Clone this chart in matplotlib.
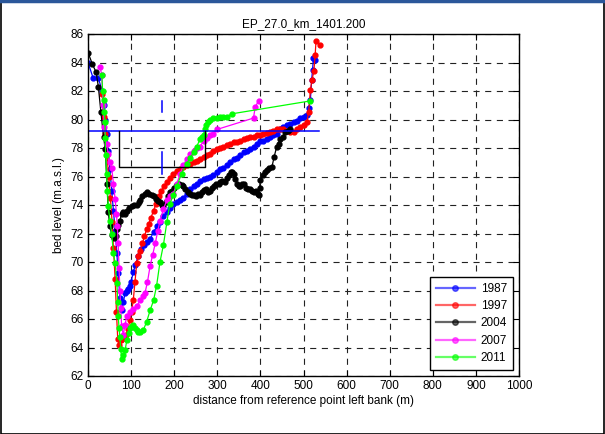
import matplotlib
matplotlib.use("Agg")
import matplotlib.pyplot as plt
from matplotlib.patches import Rectangle
from matplotlib.lines import Line2D
import numpy as np

plt.rcParams['font.family'] = ['Liberation Sans', 'DejaVu Sans']

years = ['1987', '1997', '2004', '2007', '2011']
colors = ['#0000ff', '#ff0000', '#000000', '#ff00ff', '#00ff00']

# (distance m, bed level m.a.s.l.)
pts_1987 = [(0, 84.0), (12, 82.9), (24, 82.9), (33, 82.0), (38, 81.0), (40, 80.0), (43, 79.0), (47, 77.8),
            (51, 76.5), (55, 75.0), (59, 73.6), (63, 72.2), (67, 70.6), (70, 69.2), (74, 67.5), (78, 66.6),
            (82, 67.2), (86, 67.8), (90, 68.0), (93, 68.1), (97, 68.3), (100, 68.6), (105, 69.3), (110, 69.8),
            (116, 70.4), (122, 70.9), (129, 71.2), (136, 71.4), (144, 71.6), (152, 72.1), (160, 72.5),
            (167, 72.8), (175, 73.2), (183, 73.5), (190, 73.8), (198, 74.1), (206, 74.2), (214, 74.35),
            (221, 74.5), (229, 74.8), (237, 75.1), (245, 75.3), (252, 75.5), (260, 75.7), (268, 75.8),
            (276, 75.9), (283, 76.0), (291, 76.1), (299, 76.3), (307, 76.5), (314, 76.6), (322, 76.8),
            (330, 77.0), (338, 77.2), (345, 77.3), (353, 77.5), (361, 77.7), (368, 77.8), (376, 77.9),
            (384, 78.1), (392, 78.3), (399, 78.5), (407, 78.5), (415, 78.6), (423, 78.8), (430, 78.9),
            (438, 79.0), (446, 79.3), (453, 79.5), (461, 79.6), (469, 79.7), (477, 79.8), (484, 79.9),
            (492, 80.1), (500, 80.2), (508, 80.3), (512, 80.8), (516, 81.4), (519, 82.8), (521, 83.5),
            (523, 84.3), (527, 84.2)]

pts_1997 = [(33, 81.8), (36, 80.2), (40, 79.0), (44, 77.5), (48, 76.0), (52, 74.5), (56, 72.8), (59, 71.0),
            (63, 68.8), (66, 66.5), (69, 64.6), (72, 64.2), (76, 64.5), (80, 64.6), (84, 64.8), (88, 64.9),
            (93, 65.3), (97, 65.9), (101, 66.5), (105, 67.3), (109, 68.6), (113, 69.9), (117, 70.4),
            (121, 70.8), (126, 71.3), (131, 71.8), (136, 72.3), (141, 72.7), (146, 73.1), (152, 73.6),
            (158, 74.1), (164, 74.6), (170, 75.0), (176, 75.3), (183, 75.6), (190, 75.9), (198, 76.2),
            (206, 76.4), (214, 76.55), (221, 76.7), (229, 76.8), (237, 76.9), (245, 77.0), (252, 77.1),
            (260, 77.25), (268, 77.4), (276, 77.5), (283, 77.6), (291, 77.8), (299, 77.9), (307, 78.0),
            (314, 78.1), (322, 78.2), (330, 78.3), (338, 78.4), (345, 78.4), (353, 78.5), (361, 78.6),
            (368, 78.7), (376, 78.75), (384, 78.8), (392, 78.9), (400, 78.9), (407, 79.0), (415, 79.05),
            (423, 79.1), (430, 79.2), (438, 79.3), (446, 79.3), (453, 79.3), (461, 79.2), (469, 79.1),
            (477, 79.15), (484, 79.3), (492, 79.5), (500, 79.6), (508, 79.85), (512, 80.5), (516, 82.1),
            (520, 82.8), (524, 83.4), (527, 84.5), (529, 85.5), (539, 85.2)]

pts_2004 = [(0, 84.7), (10, 83.9), (19, 83.3), (24, 82.3), (30, 80.5), (36, 78.8), (40, 77.9), (44, 75.5),
            (47, 73.5), (51, 72.5), (55, 71.9), (60, 71.7), (64, 71.8), (67, 72.3), (70, 72.6), (74, 72.9),
            (78, 73.4), (82, 73.5), (86, 73.4), (90, 73.6), (95, 73.8), (101, 73.9), (106, 74.0), (113, 74.0),
            (118, 74.2), (121, 74.35), (126, 74.6), (132, 74.8), (137, 74.9), (142, 74.8), (148, 74.7),
            (153, 74.6), (158, 74.4), (163, 74.3), (167, 74.2), (171, 74.0), (175, 73.9), (180, 74.2),
            (185, 74.6), (190, 74.9), (195, 75.0), (200, 75.2), (206, 75.4), (212, 75.5), (217, 75.4),
            (221, 75.3), (226, 75.1), (231, 74.9), (236, 74.8), (241, 74.7), (245, 74.7), (250, 74.6),
            (255, 74.8), (260, 74.7), (264, 74.9), (268, 75.05), (273, 75.1), (278, 74.9), (283, 75.0),
            (288, 75.2), (293, 75.3), (298, 75.5), (303, 75.5), (307, 75.6), (312, 75.7), (317, 75.6),
            (322, 75.9), (327, 76.1), (331, 76.3), (334, 76.3), (338, 76.2), (342, 75.8), (346, 75.5),
            (350, 75.3), (353, 75.3), (357, 75.5), (361, 75.5), (366, 75.2), (371, 75.1), (376, 75.1),
            (381, 75.0), (386, 74.9), (390, 75.0), (394, 74.8), (396, 74.7), (398, 75.2), (400, 75.75),
            (405, 76.1), (410, 76.3), (415, 76.45), (420, 76.6), (427, 76.7), (432, 77.4), (438, 78.1),
            (442, 78.3), (446, 78.6), (452, 78.8), (458, 79.1), (463, 79.2), (469, 79.3)]

pts_2007 = [(28, 83.7), (32, 83.1), (35, 81.0), (38, 79.5), (43, 78.3), (47, 77.6), (51, 77.0), (55, 76.6),
            (59, 75.5), (63, 74.4), (66, 73.4), (68, 72.5), (70, 71.3), (72, 69.6), (74, 68.0), (76, 66.8),
            (78, 65.5), (82, 64.9), (86, 65.6), (90, 66.2), (97, 66.5), (105, 66.7), (113, 66.9), (121, 67.3),
            (128, 67.6), (132, 67.8), (138, 68.6), (144, 69.7), (150, 70.5), (156, 71.3), (162, 72.2),
            (167, 72.9), (175, 73.7), (183, 74.35), (190, 74.6), (198, 74.8), (206, 75.5), (214, 76.2),
            (221, 76.8), (229, 77.2), (237, 77.6), (245, 77.8), (252, 78.0), (260, 78.1), (268, 78.5),
            (276, 78.7), (283, 78.9), (291, 79.0), (299, 79.3), (384, 80.1), (388, 80.9), (396, 81.3)]

pts_2011 = [(32, 83.1), (34, 82.0), (36, 81.4), (38, 80.5), (39.5, 79.85), (40, 78.7), (41, 77.5), (43, 76.2),
            (45, 75.0), (47, 73.9), (51, 72.9), (55, 72.0), (59, 70.6), (63, 69.9), (67, 68.5), (69, 67.2),
            (70, 66.2), (72, 65.4), (74, 64.75), (76, 63.9), (78, 63.2), (82, 63.5), (86, 63.8), (90, 64.5),
            (94, 65.0), (97.5, 65.35), (101, 65.5), (105, 65.6), (109, 65.4), (113, 65.2), (117, 65.1),
            (121, 65.1), (128, 65.2), (136, 65.8), (144, 66.6), (152, 67.3), (159, 68.3), (167, 70.0),
            (175, 71.2), (183, 72.8), (190, 74.1), (198, 74.7), (206, 75.3), (217, 76.2), (229, 76.9),
            (237, 77.3), (245, 77.7), (252, 78.1), (260, 78.6), (264, 78.8), (268, 78.9), (271, 79.3),
            (274, 79.6), (278, 79.8), (283, 80.0), (291, 80.1), (299, 80.1), (306, 80.15), (314, 80.15),
            (322, 80.2), (334, 80.4), (515, 81.3)]

# reference lines drawn on the section
water_level = 79.2
water_x = [0, 536]
box_x = [72.7, 72.7, 272, 272]
box_z = [79.2, 76.7, 76.7, 79.2]
mark_x = 171
mark_top = [81.3, 80.55]
mark_bottom = [77.7, 76.2]

fig = plt.figure(figsize=(6.05, 4.34), dpi=100)
ax = fig.add_axes([88 / 605, 1 - 376 / 434, 431 / 605, 342 / 434])

series = [pts_1987, pts_1997, pts_2004, pts_2007, pts_2011]
for pts, yr, c in zip(series, years, colors):
    p = np.array(pts)
    ax.plot(p[:, 0], p[:, 1], '-o', color=c, lw=0.9, ms=3.5, mec=c, mfc=c, label=yr)

ax.plot(water_x, [water_level, water_level], color='#0000ff', lw=1.1)
ax.plot(box_x, box_z, color='black', lw=1.0)
ax.plot([mark_x, mark_x], mark_top, color='#0000ff', lw=1.1)
ax.plot([mark_x, mark_x], mark_bottom, color='#0000ff', lw=1.1)

ax.set_xlim(0, 1000)
ax.set_ylim(62, 86)
ax.set_xticks(np.arange(0, 1001, 100))
ax.set_yticks(np.arange(62, 87, 2))
ax.grid(True, color='#222222', lw=0.8, dashes=(5.5, 5))
ax.tick_params(direction='in', top=True, right=True, length=4, width=0.8, labelsize=8.5, pad=3)
for s in ax.spines.values():
    s.set_linewidth(1.0)

ax.set_title('EP_27.0_km_1401.200', fontsize=8.5, pad=5)
ax.set_xlabel('distance from reference point left bank (m)', fontsize=8.5, labelpad=2)
ax.set_ylabel('bed level (m.a.s.l.)', fontsize=8.5, labelpad=4)

handles = [Line2D([0, 0.5, 1], [0, 0, 0], color=c, lw=1.6, alpha=0.6, marker='o', ms=4, mec=c, mfc=c,
                  markevery=[1]) for c in colors]
leg = ax.legend(handles, years, loc='lower right', bbox_to_anchor=(0.986, 0.0175), borderaxespad=0,
                fontsize=8.5, handlelength=3.3, handletextpad=0.5, labelspacing=0.45, fancybox=False,
                edgecolor='black', framealpha=1, borderpad=0.5)
leg.get_frame().set_linewidth(1.0)

# figure frame
fig.add_artist(Rectangle((0.001, 0.001), 0.997, 0.995, transform=fig.transFigure, fill=False,
                         edgecolor='black', lw=1.2))
fig.add_artist(Line2D([0, 1], [0.997, 0.997], transform=fig.transFigure, color='#2b579a', lw=2.5))

fig.savefig('out.png', dpi=100)
